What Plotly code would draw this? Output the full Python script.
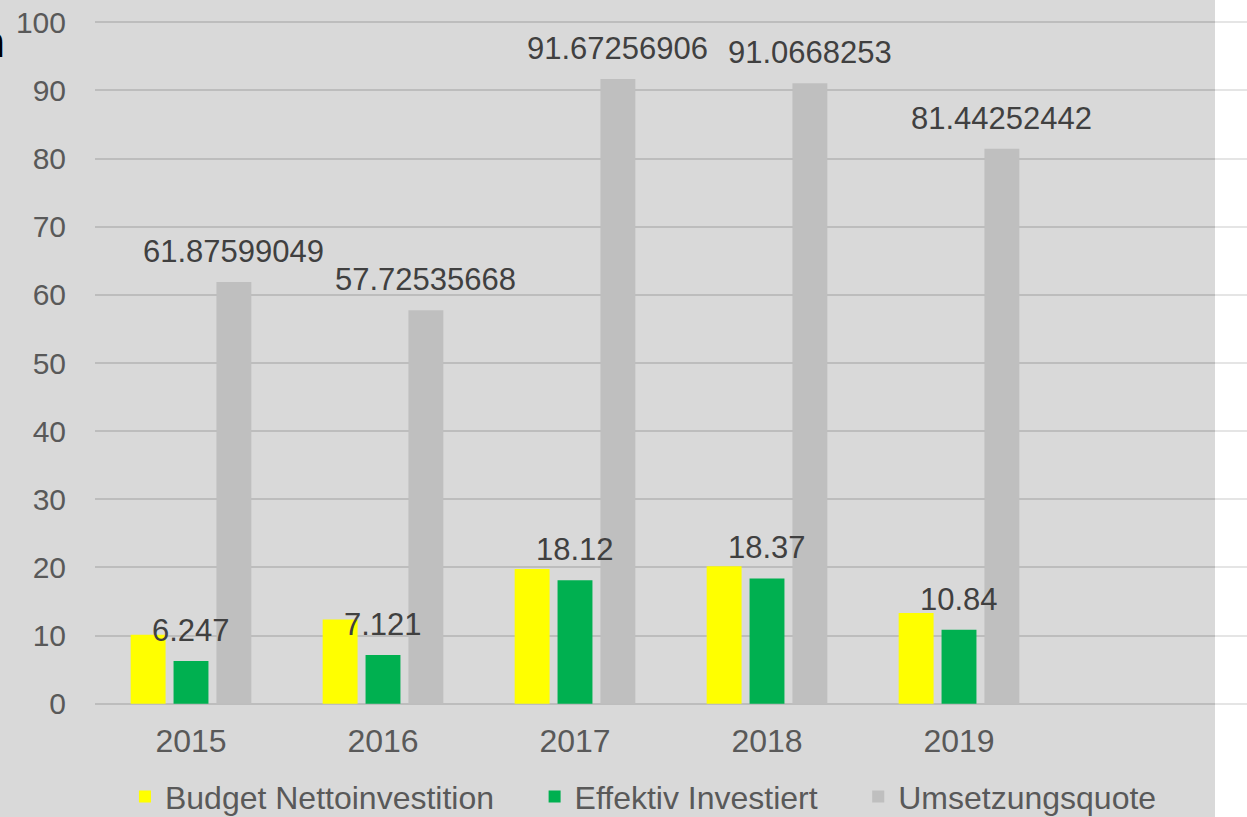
import plotly.graph_objects as go

# Jahre und Kennzahlen
years = [2015, 2016, 2017, 2018, 2019]
budget_netto = [10.10, 12.34, 19.77, 20.17, 13.31]
effektiv = [6.247, 7.121, 18.12, 18.37, 10.84]
umsetzungsquote = [61.87599049, 57.72535668, 91.67256906, 91.0668253, 81.44252442]

series_names = ["Budget Nettoinvestition", "Effektiv Investiert", "Umsetzungsquote"]
series_colors = ["#ffff00", "#00b050", "#bfbfbf"]

y_ticks = list(range(0, 101, 10))

BARGAP = 0.33
BARGROUPGAP = 0.186
slot = (1 - BARGAP) / 3  # width of one bar slot in x units

FONT = "Liberation Sans, Arial, sans-serif"
LEGEND_PAD = "\u00a0" * 4  # extra room between legend entries

fig = go.Figure()
for name, vals, col in zip(series_names, [budget_netto, effektiv, umsetzungsquote], series_colors):
    fig.add_trace(go.Bar(
        x=years, y=vals, name=name + LEGEND_PAD,
        marker=dict(color=col, line=dict(width=0)),
        hovertemplate=name + ": %{y}<extra></extra>",
    ))

# Wertbeschriftungen über den grünen und grauen Säulen
annotations = []
for offset, vals in [(0.0, effektiv), (slot, umsetzungsquote)]:
    for yr, v in zip(years, vals):
        annotations.append(dict(
            x=yr + offset, y=v, xref="x", yref="y",
            text=str(v), showarrow=False,
            xanchor="center", yanchor="bottom", yshift=11,
            font=dict(family=FONT, size=31, color="#404040"),
        ))

# angeschnittener Titelrest am linken Rand
annotations.append(dict(
    x=-0.076, y=0.97, xref="paper", yref="paper",
    text="<b>n</b>", showarrow=False, xanchor="right", yanchor="middle",
    font=dict(family=FONT, size=44, color="#000000"),
))

strip_x0 = (1215 - 95) / 1152

fig.update_layout(
    width=1247, height=817,
    margin=dict(l=95, r=0, t=21, b=112, autoexpand=False),
    paper_bgcolor="#d9d9d9",
    plot_bgcolor="rgba(0,0,0,0)",
    barmode="group",
    bargap=BARGAP,
    bargroupgap=BARGROUPGAP,
    font=dict(family=FONT, color="#595959"),
    showlegend=True,
    legend=dict(
        orientation="h", x=0.026, y=-0.134, xanchor="left", yanchor="middle",
        font=dict(family=FONT, size=32, color="#595959"),
        bgcolor="rgba(0,0,0,0)", itemwidth=30, traceorder="normal",
    ),
    annotations=annotations,
    shapes=[
        # weisser Streifen rechts
        dict(type="rect", xref="paper", yref="paper",
             x0=strip_x0, x1=1.05, y0=-0.3, y1=1.1,
             fillcolor="#ffffff", line=dict(width=0), layer="below"),
        # Gitterlinien im Streifen aufhellen
        dict(type="rect", xref="paper", yref="paper",
             x0=strip_x0, x1=1.05, y0=-0.3, y1=1.1,
             fillcolor="#ffffff", opacity=0.6, line=dict(width=0), layer="above"),
    ],
)

fig.update_xaxes(
    range=[2014.5, 2020.5],
    tickvals=years, ticktext=[str(y) for y in years],
    tickfont=dict(family=FONT, size=32, color="#595959"),
    showgrid=False, zeroline=False, showline=False, ticks="",
    ticklabelstandoff=14,
)
fig.update_yaxes(
    range=[-0.2, 100.2],
    tickvals=y_ticks,
    tickfont=dict(family=FONT, size=30, color="#595959"),
    showgrid=True, gridcolor="#bdbdbd", gridwidth=2,
    zeroline=False, showline=False, ticks="",
    ticklabelstandoff=28,
)

fig.write_html("out.html")
